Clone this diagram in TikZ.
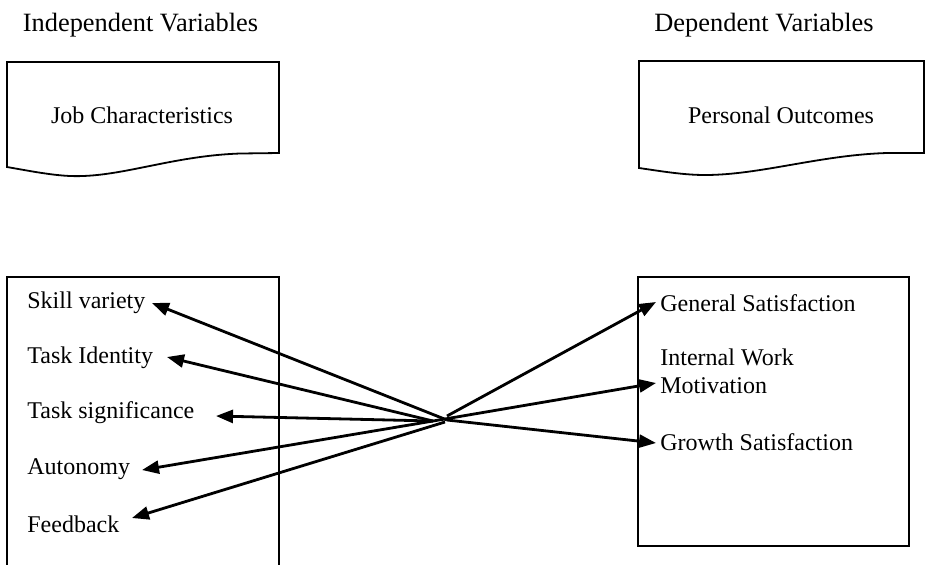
\documentclass[tikz,border=0pt]{standalone}
\usepackage{fontspec}
\setmainfont{Liberation Serif}
\usetikzlibrary{arrows.meta}
\begin{document}
\begin{tikzpicture}[x=0.5pt,y=-0.5pt,
  txt/.style={inner sep=0pt, font=\fontsize{12}{13.8}\selectfont},
  head/.style={inner sep=0pt, font=\fontsize{13.2}{15}\selectfont},
  item/.style={txt, anchor=west},
  frame/.style={draw, line width=0.9pt},
  arr/.style={line width=1.4pt, -{Triangle[length=8.5pt,width=6.5pt]}}]
\useasboundingbox (0,0) rectangle (925,564);

% headings
\node[head] (iv) at (140.5,25) {Independent Variables};
\node[head] (dv) at (764,25) {Dependent Variables};

% document shapes
\draw[frame] (279,153) -- (279,62) -- (7,62) -- (7,167)
  .. controls (30,171) and (50,175) .. (70,176)
  .. controls (120,178) and (170,156) .. (240,153.5) -- cycle;
\node[txt] (jc) at (142,115) {Job Characteristics};

\draw[frame] (924,153) -- (924,61) -- (639,61) -- (639,168)
  .. controls (660,171) and (683,175) .. (705,175)
  .. controls (760,175) and (820,155) .. (887,153) -- cycle;
\node[txt] (po) at (781,115) {Personal Outcomes};

% boxes
\draw[frame] (7,570) -- (7,277) -- (279,277) -- (279,570);
\draw[frame] (638,277) rectangle (909,546);

% left items
\node[item] (sv) at (27,303) {Skill variety};
\node[item] (ti) at (27,358) {Task Identity};
\node[item] (ts) at (27,413) {Task significance};
\node[item] (au) at (27,469) {Autonomy};
\node[item] (fb) at (27,524) {Feedback};

% right items
\node[item] (gs) at (660,303) {General Satisfaction};
\node[item, align=left] (iw) at (660,371.5) {Internal Work\\Motivation};
\node[item] (gr) at (660,442) {Growth Satisfaction};

% arrow end points
\coordinate (c1) at (447,420);
\coordinate (c2) at (433,421);
\coordinate (c3) at (445,422);
\coordinate (c4) at (447,416);

\coordinate (tsv) at (152,303);
\coordinate (tti) at (167,357);
\coordinate (tts) at (216,416);
\coordinate (tau) at (142,470);
\coordinate (tfb) at (132,518);
\coordinate (tgs) at (656,302);
\coordinate (tiw) at (656,383);
\coordinate (tgr) at (656,443);

\draw[arr] (c1) -- (tsv);
\draw[arr] (c2) -- (tti);
\draw[arr] (c2) -- (tts);
\draw[arr] (c2) -- (tau);
\draw[arr] (c3) -- (tfb);
\draw[arr] (c4) -- (tgs);
\draw[arr] (c2) -- (tiw);
\draw[arr] (c1) -- (tgr);
\end{tikzpicture}
\end{document}
